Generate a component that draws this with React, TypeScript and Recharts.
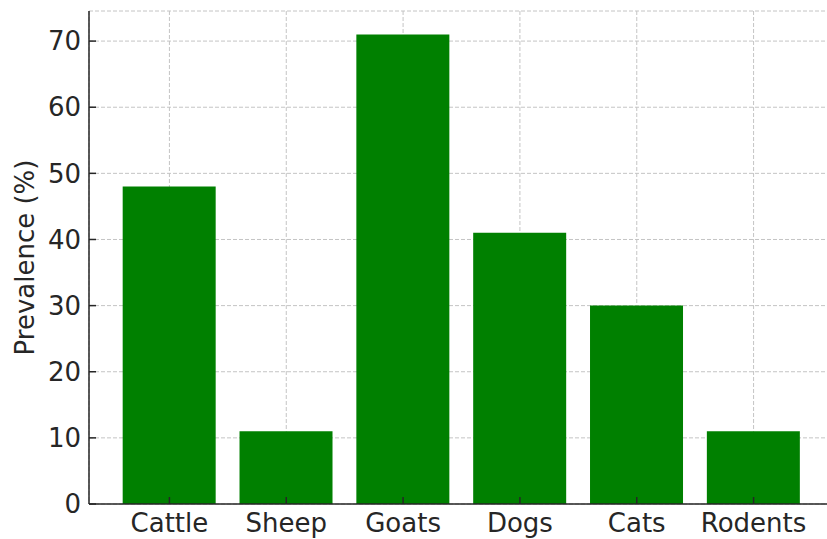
import React from "react";
import { BarChart, Bar, XAxis, YAxis, CartesianGrid } from "recharts";

const animals = ["Cattle", "Sheep", "Goats", "Dogs", "Cats", "Rodents"];
const prevalence = [48, 11, 71, 41, 30, 11];
const yTicks = [0, 10, 20, 30, 40, 50, 60, 70];

const data = animals.map((name, i) => ({ name, value: prevalence[i] }));

const ink = "#262626";
const font = "DejaVu Sans";
const fontSize = 26;

const YLabel = (props: any) => {
  const { viewBox } = props;
  const cy = viewBox.y + viewBox.height / 2;
  return (
    <text
      x={34}
      y={cy}
      transform={`rotate(-90, 34, ${cy})`}
      textAnchor="middle"
      fill={ink}
      fontSize={fontSize}
      fontFamily={font}
    >
      Prevalence (%)
    </text>
  );
};

const App: React.FC = () => {
  return (
    <div style={{ position: "absolute", top: 0, left: 0, width: 827, height: 539, overflow: "hidden", background: "#fff" }}>
      <BarChart
        width={835}
        height={539}
        data={data}
        margin={{ top: 11, right: 1, bottom: 0, left: 0 }}
        barCategoryGap="10%"
      >
        <XAxis
          dataKey="name"
          height={35}
          padding={{ left: 22, right: 22 }}
          tickSize={-7}
          tickMargin={17}
          tickLine={{ stroke: ink, strokeWidth: 1.5 }}
          axisLine={{ stroke: ink, strokeWidth: 1.5 }}
          tick={{ fill: ink, fontSize, fontFamily: font }}
        />
        <YAxis
          width={89}
          domain={[0, 74.55]}
          ticks={yTicks}
          tickSize={-7}
          tickMargin={15}
          tickLine={{ stroke: ink, strokeWidth: 1.5 }}
          axisLine={{ stroke: ink, strokeWidth: 1.5 }}
          tick={{ fill: ink, fontSize, fontFamily: font }}
          label={<YLabel />}
        />
        <Bar dataKey="value" fill="#008000" isAnimationActive={false} />
        <CartesianGrid stroke="#c4c4c4" strokeDasharray="4 2" />
      </BarChart>
    </div>
  );
};

export default App;
